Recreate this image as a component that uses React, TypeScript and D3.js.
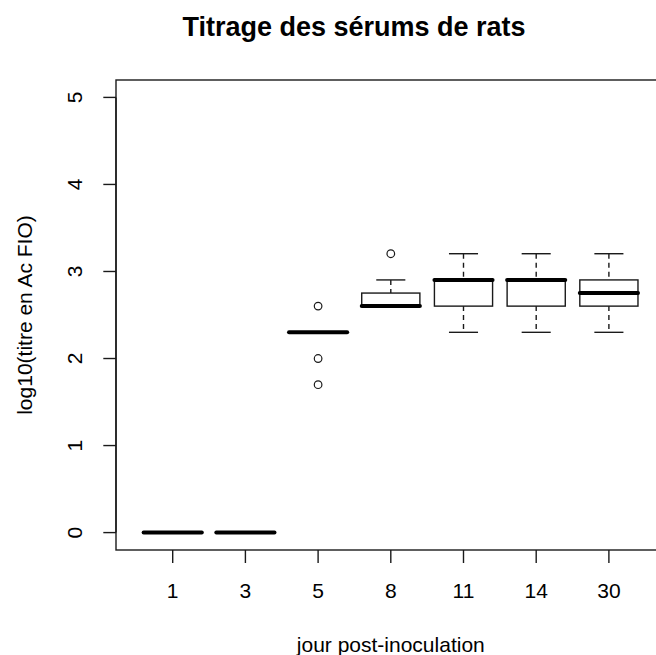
import React from "react";
import * as d3 from "d3";

const days = ["1", "3", "5", "8", "11", "14", "30"];
const whiskerLow = [0, 0, 2.301, 2.602, 2.301, 2.301, 2.301];
const q1 = [0, 0, 2.301, 2.602, 2.602, 2.602, 2.602];
const medians = [0, 0, 2.301, 2.602, 2.903, 2.903, 2.752];
const q3 = [0, 0, 2.301, 2.752, 2.903, 2.903, 2.903];
const whiskerHigh = [0, 0, 2.301, 2.903, 3.204, 3.204, 3.204];
const outliers: number[][] = [[], [], [1.699, 2.0, 2.602], [3.204], [], [], []];
const yTicks = [0, 1, 2, 3, 4, 5];

const title = "Titrage des sérums de rats";
const xLabel = "jour post-inoculation";
const yLabel = "log10(titre en Ac FIO)";

export default function App() {
  const W = 656;
  const H = 655;
  const left = 116;
  const right = 665.6;
  const top = 80;
  const bottom = 550;
  const n = days.length;
  const ext = n * 0.04;
  const x = d3.scaleLinear().domain([0.5 - ext, n + 0.5 + ext]).range([left, right]);
  const y = d3.scaleLinear().domain([-0.2, 5.2]).range([bottom, top]);
  const unit = x(2) - x(1);
  const boxW = unit * 0.8;
  const stapleW = boxW * 0.5;
  const font = "'Liberation Sans', Arial, sans-serif";
  const stroke = "#1a1a1a";
  const lw = 1.4;

  return (
    <svg
      width={W}
      height={H}
      viewBox={`0 0 ${W} ${H}`}
      style={{ position: "absolute", left: 0, top: 0, background: "#fff" }}
    >
      <rect x={0} y={0} width={W} height={H} fill="#fff" />
      <text x={354} y={35.5} textAnchor="middle" fontFamily={font} fontWeight="bold" fontSize={27} fill="#000">
        {title}
      </text>

      {/* frame */}
      <rect x={left} y={top} width={right - left} height={bottom - top} fill="none" stroke={stroke} strokeWidth={lw} />

      {/* y axis */}
      <line x1={left} x2={left} y1={y(0)} y2={y(5)} stroke={stroke} strokeWidth={lw} />
      {yTicks.map((t) => (
        <g key={"yt" + t}>
          <line x1={left - 12.7} x2={left} y1={y(t)} y2={y(t)} stroke={stroke} strokeWidth={lw} />
          <text
            transform={`translate(${82},${y(t)}) rotate(-90)`}
            textAnchor="middle"
            fontFamily={font}
            fontSize={21}
            fill="#000"
          >
            {t}
          </text>
        </g>
      ))}
      <text
        transform={`translate(${32},${(top + bottom) / 2}) rotate(-90)`}
        textAnchor="middle"
        fontFamily={font}
        fontSize={21}
        fill="#000"
      >
        {yLabel}
      </text>

      {/* x axis */}
      {days.map((d, i) => (
        <g key={"xt" + d}>
          <line x1={x(i + 1)} x2={x(i + 1)} y1={bottom} y2={bottom + 13} stroke={stroke} strokeWidth={lw} />
          <text x={x(i + 1)} y={598} textAnchor="middle" fontFamily={font} fontSize={21} fill="#000">
            {d}
          </text>
        </g>
      ))}
      <text x={(left + right) / 2} y={652} textAnchor="middle" fontFamily={font} fontSize={21} fill="#000">
        {xLabel}
      </text>

      {/* boxes */}
      {days.map((d, i) => {
        const cx = x(i + 1);
        return (
          <g key={"box" + d}>
            <line x1={cx} x2={cx} y1={y(whiskerHigh[i])} y2={y(q3[i])} stroke={stroke} strokeWidth={lw} strokeDasharray="5,4" />
            <line x1={cx} x2={cx} y1={y(q1[i])} y2={y(whiskerLow[i])} stroke={stroke} strokeWidth={lw} strokeDasharray="5,4" />
            <line x1={cx - stapleW / 2} x2={cx + stapleW / 2} y1={y(whiskerHigh[i])} y2={y(whiskerHigh[i])} stroke={stroke} strokeWidth={lw} />
            <line x1={cx - stapleW / 2} x2={cx + stapleW / 2} y1={y(whiskerLow[i])} y2={y(whiskerLow[i])} stroke={stroke} strokeWidth={lw} />
            <rect
              x={cx - boxW / 2}
              y={y(q3[i])}
              width={boxW}
              height={Math.max(0, y(q1[i]) - y(q3[i]))}
              fill="#fff"
              stroke={stroke}
              strokeWidth={lw}
            />
            <line
              x1={cx - boxW / 2}
              x2={cx + boxW / 2}
              y1={y(medians[i])}
              y2={y(medians[i])}
              stroke="#000"
              strokeWidth={4}
              strokeLinecap="round"
            />
            {outliers[i].map((o, k) => (
              <circle key={k} cx={cx} cy={y(o)} r={3.8} fill="none" stroke={stroke} strokeWidth={1.2} />
            ))}
          </g>
        );
      })}
    </svg>
  );
}
